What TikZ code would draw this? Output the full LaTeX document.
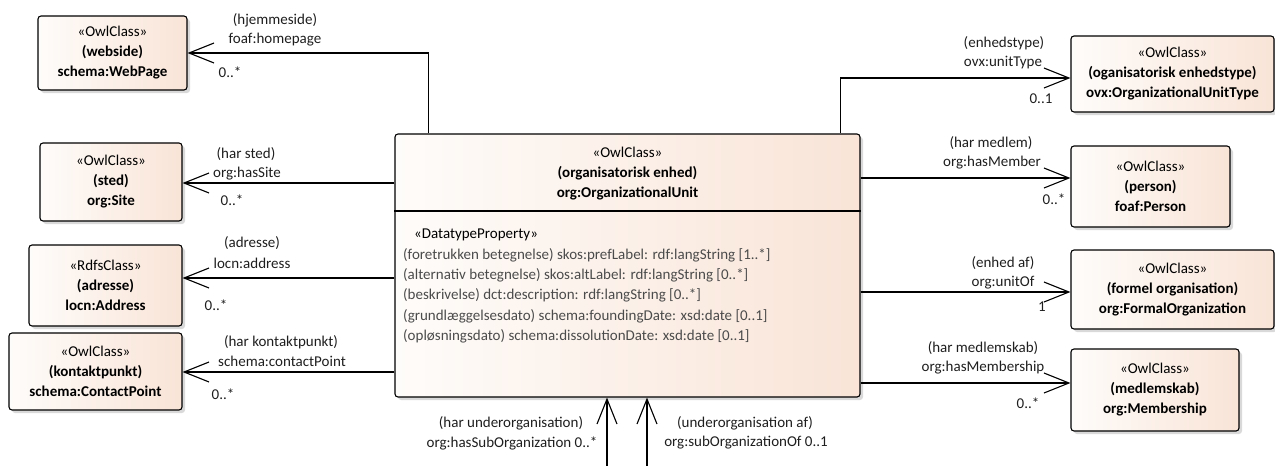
\documentclass[tikz,border=0pt]{standalone}
\usepackage{fontspec}
\setmainfont{Carlito}
\usetikzlibrary{arrows.meta,shadows,calc}
\definecolor{boxL}{RGB}{254,252,250}
\definecolor{boxR}{RGB}{249,228,215}
\definecolor{txt}{RGB}{30,30,30}
\definecolor{attr}{RGB}{75,75,75}
\tikzset{
  cls/.style={draw=black, line width=1.1pt, rounded corners=3pt, left color=boxL, right color=boxR,
    drop shadow={shadow xshift=3pt, shadow yshift=-3pt, fill=black!15, opacity=1},
    align=center, font=\fontsize{15}{20}\selectfont, inner sep=0pt},
  assoc/.style={line width=1.1pt, -{Straight Barb[length=25pt,width=20pt,line width=1.1pt]}},
  lbl/.style={font=\fontsize{15}{20}\selectfont, text=txt, align=center, inner sep=0pt},
  attrtxt/.style={font=\fontsize{15}{20}\selectfont, text=attr, anchor=west, inner sep=0pt},
}
\begin{document}
\begin{tikzpicture}[x=1pt,y=-1pt]
\useasboundingbox (0,0) rectangle (1275,466);
% classes
\node[cls, minimum width=149pt, minimum height=74pt] (webside) at (112.5,53) {«OwlClass»\\\textbf{(webside)}\\\textbf{schema:WebPage}};
\node[cls, minimum width=142pt, minimum height=78pt] (sted) at (111,182) {«OwlClass»\\\textbf{(sted)}\\\textbf{org:Site}};
\node[cls, minimum width=153pt, minimum height=81pt] (adresse) at (105.5,285.5) {«RdfsClass»\\\textbf{(adresse)}\\\textbf{locn:Address}};
\node[cls, minimum width=173pt, minimum height=77pt] (kontakt) at (95.5,371.5) {«OwlClass»\\\textbf{(kontaktpunkt)}\\\textbf{schema:ContactPoint}};
\node[cls, minimum width=465pt, minimum height=263pt] (unit) at (627.5,265.5) {};
\node[cls, minimum width=203pt, minimum height=76pt] (unittype) at (1172.5,74) {«OwlClass»\\\textbf{(oganisatorisk enhedstype)}\\\textbf{ovx:OrganizationalUnitType}};
\node[cls, minimum width=159pt, minimum height=81pt] (person) at (1150.5,186.5) {«OwlClass»\\\textbf{(person)}\\\textbf{foaf:Person}};
\node[cls, minimum width=203pt, minimum height=79pt] (formal) at (1172.5,289.5) {«OwlClass»\\\textbf{(formel organisation)}\\\textbf{org:FormalOrganization}};
\node[cls, minimum width=168pt, minimum height=82pt] (membership) at (1155,390) {«OwlClass»\\\textbf{(medlemskab)}\\\textbf{org:Membership}};
% central class contents
\node[lbl, text=black] (unittitle) at (627.5,174) {«OwlClass»\\\textbf{(organisatorisk enhed)}\\\textbf{org:OrganizationalUnit}};
\draw[line width=1.1pt] (unit.west |- 0,211) -- (unit.east |- 0,211);
\node[attrtxt, text=black] (stereo) at (414,235) {«DatatypeProperty»};
\node[attrtxt] (a1) at (403,255) {(foretrukken betegnelse) skos:prefLabel: rdf:langString [1..*]};
\node[attrtxt] (a2) at (403,275) {(alternativ betegnelse) skos:altLabel: rdf:langString [0..*]};
\node[attrtxt] (a3) at (403,295) {(beskrivelse) dct:description: rdf:langString [0..*]};
\node[attrtxt] (a4) at (403,316) {(grundlæggelsesdato) schema:foundingDate: xsd:date [0..1]};
\node[attrtxt] (a5) at (403,336) {(opløsningsdato) schema:dissolutionDate: xsd:date [0..1]};
% connectors
\draw[assoc] ([xshift=34pt]unit.north west) |- (webside.east);
\draw[assoc] (unit.west |- 0,183) -- (sted.east |- 0,183);
\draw[assoc] (unit.west |- 0,278) -- (adresse.east |- 0,278);
\draw[assoc] (unit.west |- 0,372) -- (kontakt.east |- 0,372);
\draw[assoc] ([xshift=-20pt]unit.north east) |- (unittype.west |- 0,78);
\draw[assoc] (unit.east |- 0,178) -- (person.west |- 0,178);
\draw[assoc] (unit.east |- 0,292) -- (formal.west |- 0,292);
\draw[assoc] (unit.east |- 0,383) -- (membership.west |- 0,383);
\coordinate (s1) at (607,470);
\coordinate (s2) at (647,470);
\draw[assoc] (s1) -- (unit.south -| s1);
\draw[assoc] (s2) -- (unit.south -| s2);
% labels
\node[lbl] (l1a) at (275,20) {(hjemmeside)};
\node[lbl] (l1b) at (275,40) {foaf:homepage};
\node[lbl] (l1c) at (230,72) {0..*};
\node[lbl] (l2a) at (246,154) {(har sted)};
\node[lbl] (l2b) at (247,174) {org:hasSite};
\node[lbl] (l2c) at (232,200) {0..*};
\node[lbl] (l3a) at (252,243) {(adresse)};
\node[lbl] (l3b) at (252,263) {locn:address};
\node[lbl] (l3c) at (216,305) {0..*};
\node[lbl] (l4a) at (281,342) {(har kontaktpunkt)};
\node[lbl] (l4b) at (282,361) {schema:contactPoint};
\node[lbl] (l4c) at (223,394) {0..*};
\node[lbl] (r1a) at (1004,43) {(enhedstype)};
\node[lbl] (r1b) at (1003,63) {ovx:unitType};
\node[lbl] (r1c) at (1041,99) {0..1};
\node[lbl] (r2a) at (991,143) {(har medlem)};
\node[lbl] (r2b) at (992,163) {org:hasMember};
\node[lbl] (r2c) at (1054,199) {0..*};
\node[lbl] (r3a) at (1003,263) {(enhed af)};
\node[lbl] (r3b) at (1003,283) {org:unitOf};
\node[lbl] (r3c) at (1042,307) {1};
\node[lbl] (r4a) at (983,348) {(har medlemskab)};
\node[lbl] (r4b) at (983,368) {org:hasMembership};
\node[lbl] (r4c) at (1028,403) {0..*};
\node[lbl] (b1a) at (511,423) {(har underorganisation)};
\node[lbl] (b1b) at (512,443) {org:hasSubOrganization 0..*};
\node[lbl] (b2a) at (745,423) {(underorganisation af)};
\node[lbl] (b2b) at (746,443) {org:subOrganizationOf 0..1};
\end{tikzpicture}
\end{document}
